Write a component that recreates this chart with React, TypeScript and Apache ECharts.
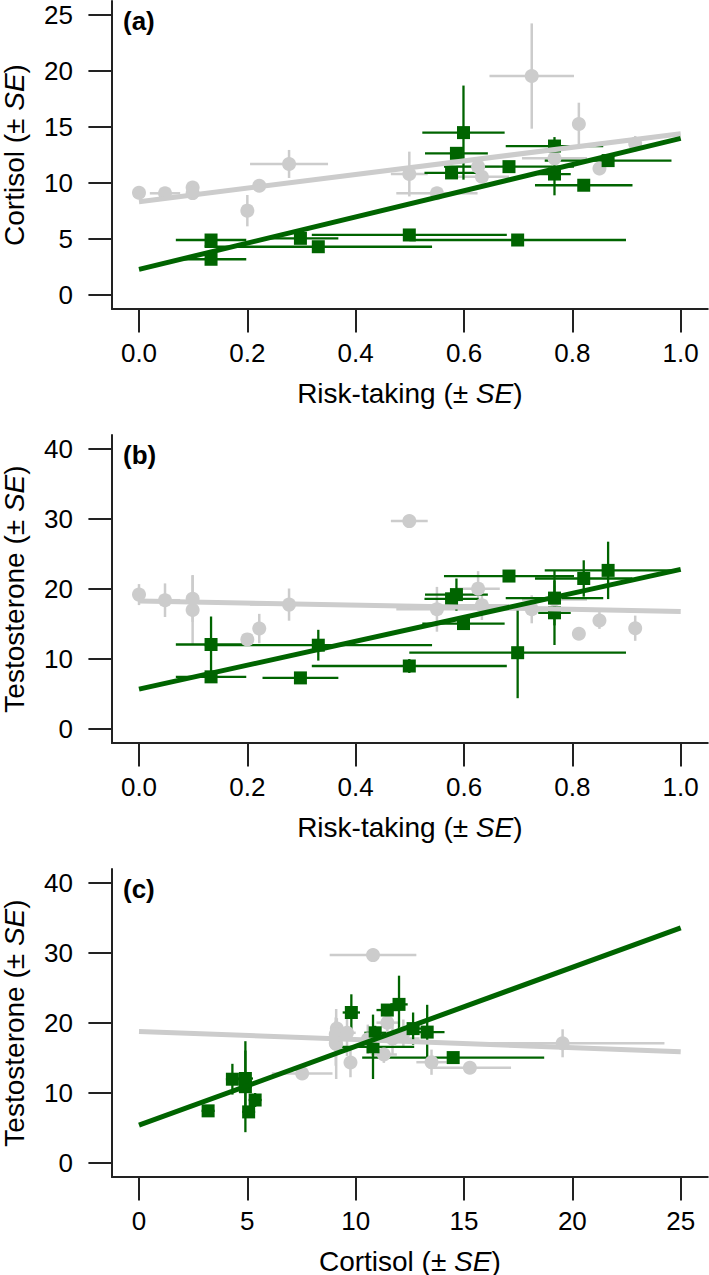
import React, { useEffect, useRef } from "react";
import * as echarts from "echarts";

// ---------- data ----------
// Grey group (circles): one entry per individual
const greyRisk = [0.0, 0.048, 0.099, 0.099, 0.2, 0.222, 0.277, 0.499, 0.55, 0.626, 0.633, 0.725, 0.767, 0.812, 0.85, 0.916];
const greyRiskSE = [0, 0.028, 0, 0, 0, 0, 0.072, 0.034, 0.075, 0.04, 0.05, 0.078, 0.06, 0, 0, 0];
const greyCort = [9.13, 9.08, 9.6, 9.1, 7.53, 9.76, 11.7, 10.8, 9.08, 11.46, 10.56, 19.55, 12.2, 15.27, 11.3, 13.5];
const greyCortSE = [0.3, 0.3, 0.4, 0.3, 1.4, 0.3, 1.25, 2.0, 0.3, 0.5, 0.5, 4.7, 0.5, 1.9, 0.6, 0.7];
const greyTest = [19.2, 18.4, 18.6, 17.0, 12.8, 14.35, 17.77, 29.7, 17.1, 20.05, 17.67, 17.1, 18.5, 13.6, 15.5, 14.4];
const greyTestSE = [1.5, 2.4, 3.3, 5.0, 0.5, 2.1, 2.3, 0.5, 3.2, 2.5, 2.1, 2.0, 2.0, 0.5, 1.2, 1.8];

// Green group (squares)
const greenRisk = [0.133, 0.133, 0.298, 0.331, 0.499, 0.699, 0.577, 0.586, 0.599, 0.683, 0.767, 0.767, 0.821, 0.866];
const greenRiskSE = [0.065, 0.065, 0.07, 0.21, 0.18, 0.2, 0.05, 0.058, 0.076, 0.12, 0.09, 0.03, 0.09, 0.117];
const greenCort = [4.91, 3.19, 5.06, 4.31, 5.36, 4.91, 10.9, 12.65, 14.5, 11.46, 13.3, 10.8, 9.8, 12.0];
const greenCortSE = [0.35, 0.3, 0.3, 0.3, 0.3, 0.3, 0.5, 0.4, 4.2, 0.5, 0.8, 1.9, 0.4, 0.4];
const greenTest = [12.07, 7.45, 7.3, 11.97, 9.0, 10.9, 18.6, 19.2, 15.06, 21.85, 18.7, 16.6, 21.5, 22.66];
const greenTestSE = [4.0, 0.5, 0.4, 2.2, 1.0, 6.5, 1.0, 2.3, 0.6, 0.7, 3.9, 4.6, 2.6, 4.1];

// Fitted lines: value at the left end (x = 0) and at the right end (x = max)
const aGreyFit = [8.33, 14.4];
const aGreenFit = [2.29, 13.99];
const bGreyFit = [18.3, 16.8];
const bGreenFit = [5.7, 22.8];
const cGreyFit = [18.8, 15.9];
const cGreenFit = [5.4, 33.6];

// Axis ranges / ticks
const riskAxis = { max: 1, interval: 0.2, decimals: 1 };
const cortAxis = { max: 25, interval: 5, decimals: 0 };
const testAxis = { max: 40, interval: 10, decimals: 0 };

const panelLetters = ["(a)", "(b)", "(c)"];

// ---------- styling ----------
const FONT = "'Liberation Sans', Arial, Helvetica, sans-serif";
const AXIS_COLOR = "#222222";
const GREY = "#cccccc";
const GREEN = "#006400";

const PLOT_LEFT = 139;
const PLOT_W = 541.7;
const PLOT_H = 280;
const PAD = 0.05;
const PANEL_TOPS = [15, 449, 883]; // pixel of the top tick of each panel

function nameRich(label: string) {
  return `{n|${label} (± }{i|SE}{n|)}`;
}

export default function App() {
  const ref = useRef<HTMLDivElement>(null);

  useEffect(() => {
    if (!ref.current) return;
    const chart = echarts.init(ref.current, undefined, { renderer: "svg" });

    const panels = [
      { xa: riskAxis, ya: cortAxis, xName: "Risk-taking", yName: "Cortisol",
        gx: greyRisk, gex: greyRiskSE, gy: greyCort, gey: greyCortSE,
        nx: greenRisk, nex: greenRiskSE, ny: greenCort, ney: greenCortSE,
        gFit: aGreyFit, nFit: aGreenFit },
      { xa: riskAxis, ya: testAxis, xName: "Risk-taking", yName: "Testosterone",
        gx: greyRisk, gex: greyRiskSE, gy: greyTest, gey: greyTestSE,
        nx: greenRisk, nex: greenRiskSE, ny: greenTest, ney: greenTestSE,
        gFit: bGreyFit, nFit: bGreenFit },
      { xa: cortAxis, ya: testAxis, xName: "Cortisol", yName: "Testosterone",
        gx: greyCort, gex: greyCortSE, gy: greyTest, gey: greyTestSE,
        nx: greenCort, nex: greenCortSE, ny: greenTest, ney: greenTestSE,
        gFit: cGreyFit, nFit: cGreenFit },
    ];

    const grids: any[] = [];
    const xAxes: any[] = [];
    const yAxes: any[] = [];
    const series: any[] = [];
    const graphics: any[] = [];

    const padX = PLOT_W * PAD;
    const padY = PLOT_H * PAD;

    const richStyle = {
      n: { fontSize: 28, fontFamily: FONT, color: "#000", lineHeight: 28 },
      i: { fontSize: 28, fontFamily: FONT, color: "#000", fontStyle: "italic", lineHeight: 28 },
    };

    panels.forEach((p, k) => {
      const top = PANEL_TOPS[k];
      const outer = 2 * k;
      const inner = 2 * k + 1;
      grids.push({
        left: PLOT_LEFT - padX, top: top - padY,
        width: PLOT_W + 2 * padX, height: PLOT_H + 2 * padY,
        containLabel: false, outerBoundsMode: "none",
      });
      grids.push({
        left: PLOT_LEFT, top, width: PLOT_W, height: PLOT_H,
        containLabel: false, outerBoundsMode: "none",
      });

      // outer axes: only the L-shaped axis lines
      xAxes.push({
        type: "value", gridIndex: outer,
        min: -PAD * p.xa.max, max: (1 + PAD) * p.xa.max,
        axisLine: { show: true, onZero: false, lineStyle: { color: AXIS_COLOR, width: 2 } },
        axisTick: { show: false }, axisLabel: { show: false }, splitLine: { show: false },
      });
      yAxes.push({
        type: "value", gridIndex: outer,
        min: -PAD * p.ya.max, max: (1 + PAD) * p.ya.max,
        axisLine: { show: true, onZero: false, lineStyle: { color: AXIS_COLOR, width: 2 } },
        axisTick: { show: false }, axisLabel: { show: false }, splitLine: { show: false },
      });

      // inner axes: ticks, labels and titles
      const xd = p.xa.decimals;
      xAxes.push({
        type: "value", gridIndex: inner, min: 0, max: p.xa.max, interval: p.xa.interval,
        offset: padY,
        axisLine: { show: false, onZero: false },
        axisTick: { show: true, length: 23.5, lineStyle: { color: AXIS_COLOR, width: 2 } },
        axisLabel: {
          fontSize: 26, fontFamily: FONT, color: "#000", margin: 31,
          formatter: (v: number) => v.toFixed(xd),
        },
        splitLine: { show: false },
        name: nameRich(p.xName), nameLocation: "middle", nameGap: 70,
        nameTextStyle: { fontSize: 28, fontFamily: FONT, color: "#000", lineHeight: 28, rich: richStyle },
      });
      yAxes.push({
        type: "value", gridIndex: inner, min: 0, max: p.ya.max, interval: p.ya.interval,
        offset: padX,
        axisLine: { show: false, onZero: false },
        axisTick: { show: true, length: 23.5, lineStyle: { color: AXIS_COLOR, width: 2 } },
        axisLabel: { fontSize: 26, fontFamily: FONT, color: "#000", margin: 39 },
        splitLine: { show: false },
        name: nameRich(p.yName), nameLocation: "middle", nameGap: 83.5,
        nameTextStyle: { fontSize: 28, fontFamily: FONT, color: "#000", lineHeight: 28, rich: richStyle },
      });

      const errSeries = (xs: number[], exs: number[], ys: number[], eys: number[], color: string, w: number) => ({
        type: "custom", xAxisIndex: outer, yAxisIndex: outer, silent: true, clip: false,
        data: xs.map((x, i) => [x, ys[i], exs[i], eys[i]]),
        encode: { x: 0, y: 1 },
        renderItem: (_params: any, api: any) => {
          const x = api.value(0), y = api.value(1), ex = api.value(2), ey = api.value(3);
          const h1 = api.coord([x - ex, y]), h2 = api.coord([x + ex, y]);
          const v1 = api.coord([x, y - ey]), v2 = api.coord([x, y + ey]);
          const style = { stroke: color, lineWidth: w, fill: null };
          return {
            type: "group",
            children: [
              { type: "line", shape: { x1: h1[0], y1: h1[1], x2: h2[0], y2: h2[1] }, style },
              { type: "line", shape: { x1: v1[0], y1: v1[1], x2: v2[0], y2: v2[1] }, style },
            ],
          };
        },
      });

      // grey group
      series.push(errSeries(p.gx, p.gex, p.gy, p.gey, GREY, 2.5));
      series.push({
        type: "scatter", xAxisIndex: outer, yAxisIndex: outer, silent: true,
        symbol: "circle", symbolSize: 14, itemStyle: { color: GREY, opacity: 1 },
        data: p.gx.map((x, i) => [x, p.gy[i]]),
      });
      series.push({
        type: "line", xAxisIndex: outer, yAxisIndex: outer, silent: true,
        symbol: "none", showSymbol: false, lineStyle: { color: GREY, width: 5 },
        data: [[0, p.gFit[0]], [p.xa.max, p.gFit[1]]],
      });
      // green group
      series.push(errSeries(p.nx, p.nex, p.ny, p.ney, GREEN, 2.3));
      series.push({
        type: "scatter", xAxisIndex: outer, yAxisIndex: outer, silent: true,
        symbol: "rect", symbolSize: 13, itemStyle: { color: GREEN, opacity: 1 },
        data: p.nx.map((x, i) => [x, p.ny[i]]),
      });
      series.push({
        type: "line", xAxisIndex: outer, yAxisIndex: outer, silent: true,
        symbol: "none", showSymbol: false, lineStyle: { color: GREEN, width: 5 },
        data: [[0, p.nFit[0]], [p.xa.max, p.nFit[1]]],
      });

      graphics.push({
        type: "text", left: 123, top: top - padY + 7,
        style: { text: panelLetters[k], fontSize: 26, fontWeight: "bold", fontFamily: FONT, fill: "#000" },
      });
    });

    chart.setOption({
      animation: false,
      backgroundColor: "#ffffff",
      grid: grids,
      xAxis: xAxes,
      yAxis: yAxes,
      series,
      graphic: graphics,
    });

    return () => chart.dispose();
  }, []);

  return (
    <div
      ref={ref}
      style={{ position: "absolute", left: 0, top: 0, width: 709, height: 1275 }}
    />
  );
}
